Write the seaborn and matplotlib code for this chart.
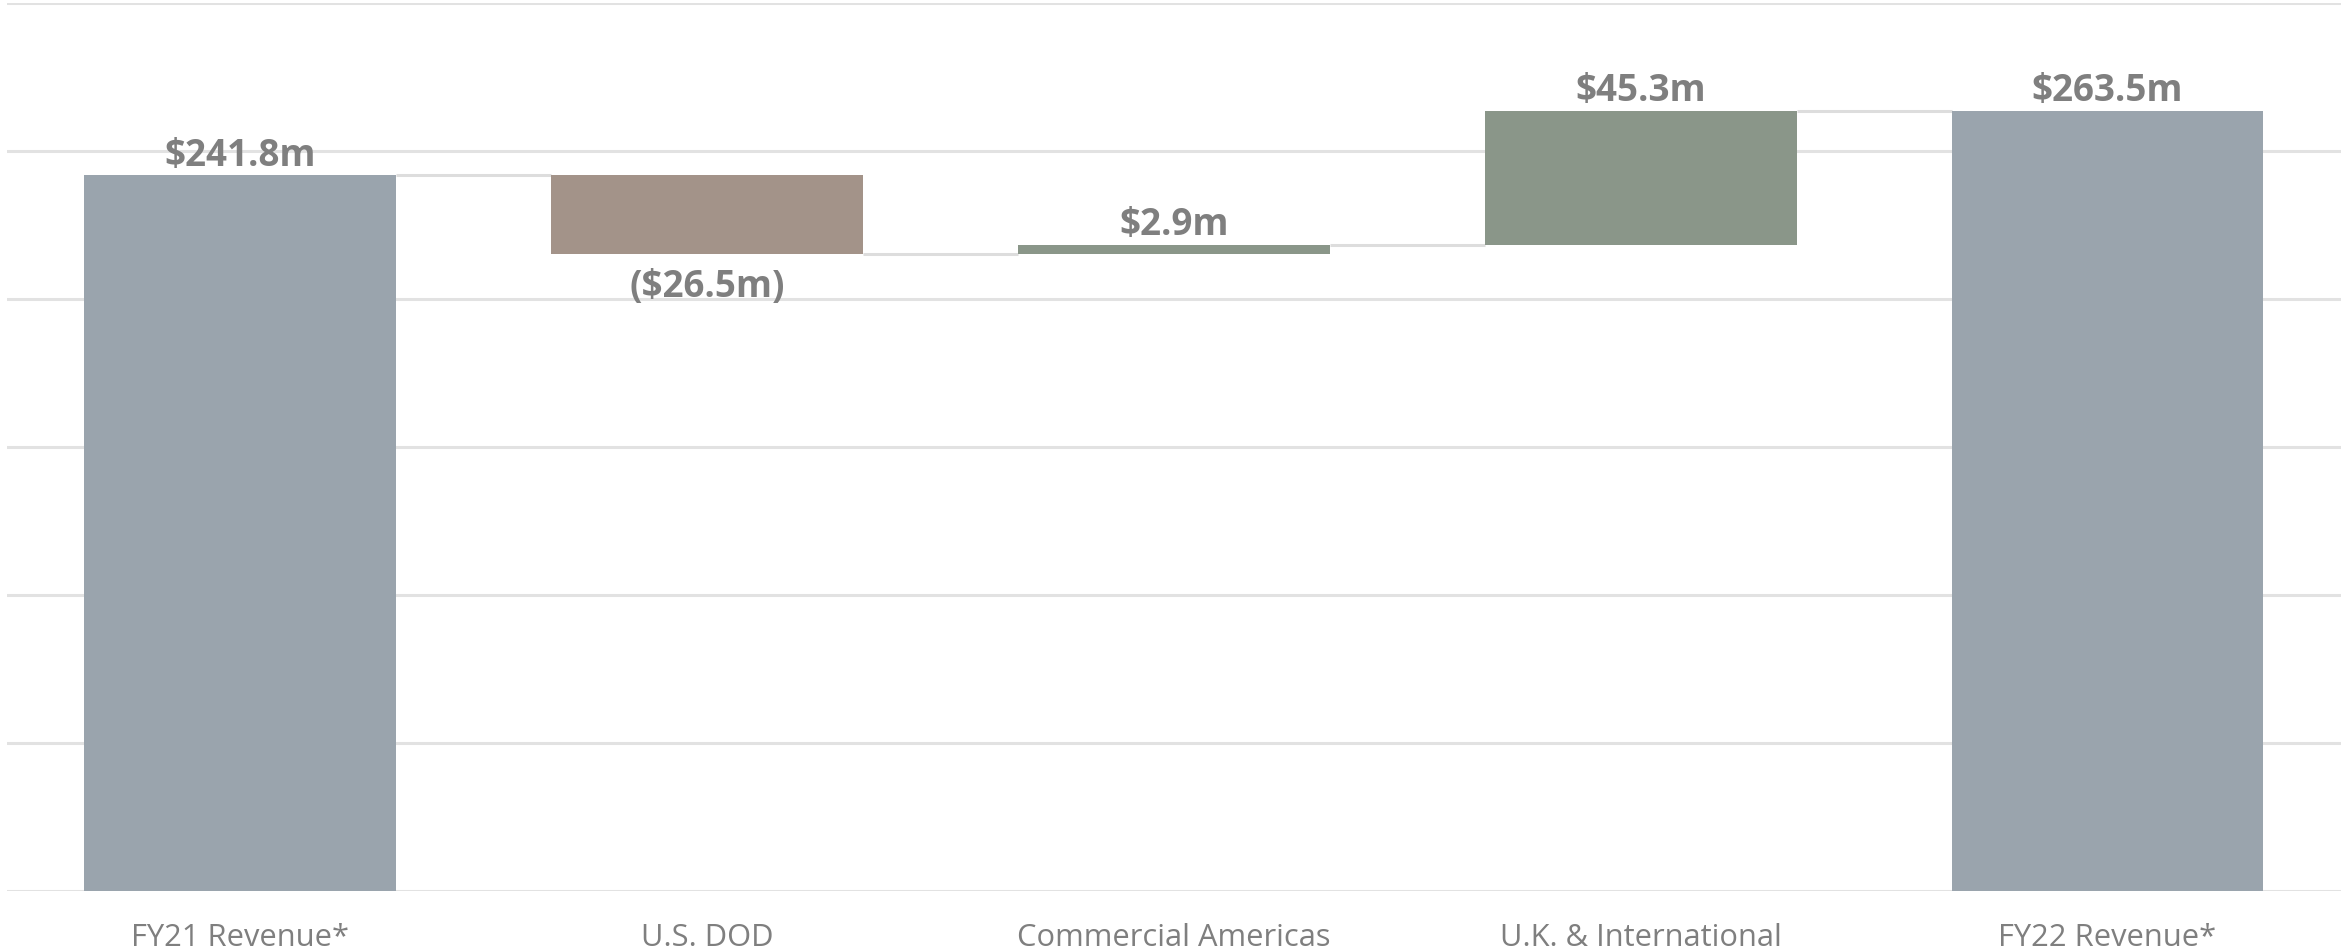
import matplotlib
matplotlib.use("Agg")
import matplotlib.pyplot as plt
import seaborn as sns
import pandas as pd

categories = ["FY21 Revenue*", "U.S. DOD", "Commercial Americas", "U.K. & International", "FY22 Revenue*"]
kinds = ["total", "delta", "delta", "delta", "total"]
values = [241.8, -26.5, 2.9, 45.3, 263.5]
labels = ["$241.8m", "($26.5m)", "$2.9m", "$45.3m", "$263.5m"]
colors = ["#9AA4AD", "#A39389", "#8A9689", "#8A9689", "#9AA4AD"]

# compute floating bar extents
bottoms, tops = [], []
running = 0.0
for k, v in zip(kinds, values):
    if k == "total":
        bottoms.append(0.0)
        tops.append(v)
        running = v
    else:
        lo, hi = sorted([running, running + v])
        bottoms.append(lo)
        tops.append(hi)
        running += v

df = pd.DataFrame({"category": categories, "top": tops})

sns.set_theme(style="white")
plt.rcParams["font.family"] = ["Open Sans", "DejaVu Sans"]

fig = plt.figure(figsize=(23.41, 9.52), dpi=100)
ax = fig.add_axes([6.5 / 2341, 1 - 891 / 952, 1 - 6.5 / 2341, (891 - 3) / 952])

W = 0.668
sns.barplot(data=df, x="category", y="top", hue="category", palette=colors,
            legend=False, width=W, ax=ax, saturation=1, zorder=3)

for p, b, t in zip(ax.patches, bottoms, tops):
    p.set_y(b)
    p.set_height(t - b)
    p.set_linewidth(0)

# connectors
levels = []
running = 0.0
for k, v in zip(kinds, values):
    running = v if k == "total" else running + v
    levels.append(running)
for i in range(len(categories) - 1):
    ax.plot([i + W / 2, i + 1 - W / 2], [levels[i], levels[i]],
            color="#DDDDDD", lw=2.2, zorder=2, solid_capstyle="butt")

# value labels
for i, (k, v, lab) in enumerate(zip(kinds, values, labels)):
    if v >= 0:
        ax.annotate(lab, (i, tops[i]), xytext=(0, 0.5), textcoords="offset points",
                    ha="center", va="bottom", fontsize=26.5, fontweight="bold",
                    color="#7F7F7F", zorder=5)
    else:
        ax.annotate(lab, (i, bottoms[i]), xytext=(0, -10), textcoords="offset points",
                    ha="center", va="top", fontsize=26.5, fontweight="bold",
                    color="#7F7F7F", zorder=5)

ax.set_ylim(0, 300)
ax.set_xlim(-0.5, len(categories) - 0.5)
ax.set_yticks(range(0, 301, 50))
ax.set_yticklabels([])
ax.yaxis.grid(True, color="#E2E2E2", lw=2.2, zorder=0)
ax.set_axisbelow(True)
ax.set_xlabel("")
ax.set_ylabel("")
ax.tick_params(axis="x", length=0, pad=23, labelsize=22.2, labelcolor="#7F7F7F")
ax.tick_params(axis="y", length=0)
for s in ax.spines.values():
    s.set_visible(False)

fig.savefig("out.png", dpi=100, facecolor="white")
